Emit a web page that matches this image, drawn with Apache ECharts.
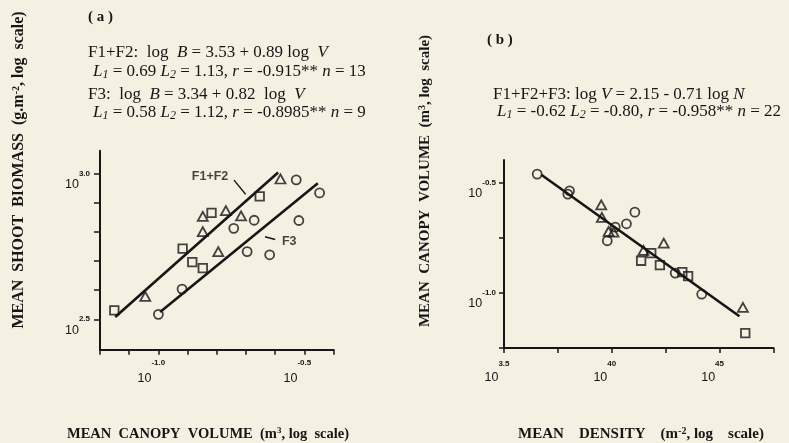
<!DOCTYPE html>
<html><head><meta charset="utf-8">
<script src="https://cdn.jsdelivr.net/npm/echarts@6/dist/echarts.min.js"></script>
<style>html,body{margin:0;padding:0;background:#f4f0e2;}#c{width:789px;height:443px;}</style>
</head><body><div id="c"></div>
<script>
// ---------- Panel (a): log10 mean canopy volume (x) vs log10 mean shoot biomass (y)
const aSquaresF12   = [[-1.151,2.531],[-0.917,2.743],[-0.884,2.697],[-0.848,2.676],[-0.818,2.866],[-0.653,2.923]];
const aTrianglesF12 = [[-1.045,2.579],[-0.848,2.854],[-0.848,2.802],[-0.769,2.874],[-0.717,2.856],[-0.795,2.733],[-0.582,2.983]];
const aCirclesF3    = [[-1.000,2.517],[-0.919,2.604],[-0.742,2.813],[-0.672,2.841],[-0.696,2.733],[-0.619,2.722],[-0.528,2.980],[-0.519,2.840],[-0.448,2.935]];
const aLineF12 = [[-1.148,2.508],[-0.590,3.005]];
const aLineF3  = [[-0.994,2.525],[-0.454,2.968]];
const aAnnoText = [[-0.823,2.990,'F1+F2'],[-0.552,2.769,'F3']];
const aLeaderF12 = [[-0.741,2.979],[-0.701,2.930]];
const aLeaderF3  = [[-0.635,2.784],[-0.600,2.775]];
const aXTicks = [-1.2,-1.1,-1.0,-0.9,-0.8,-0.7,-0.6,-0.5,-0.4];
const aXLabelVals = [-1.0,-0.5];
const aXLabelSup  = ['-1.0','-0.5'];
const aYTicks = [2.5,2.6,2.7,2.8,2.9,3.0];
const aYLabelVals = [2.5,3.0];
const aYLabelSup  = ['2.5','3.0'];

// ---------- Panel (b): log10 mean density (x) vs log10 mean canopy volume (y)
const bCircles   = [[3.654,-0.459],[3.804,-0.535],[3.796,-0.550],[4.107,-0.632],[4.068,-0.685],[4.016,-0.700],[3.979,-0.762],[4.294,-0.909],[4.417,-1.005]];
const bTriangles = [[3.951,-0.599],[3.954,-0.656],[3.985,-0.720],[4.008,-0.723],[4.147,-0.806],[4.241,-0.773],[4.608,-1.065]];
const bSquares   = [[4.136,-0.853],[4.183,-0.818],[4.223,-0.873],[4.327,-0.905],[4.354,-0.923],[4.619,-1.182]];
const bLine = [[3.673,-0.462],[4.592,-1.105]];
const bXTicks = [3.5,3.75,4.0,4.25,4.5,4.75];
const bXLabelVals = [3.5,4.0,4.5];
const bXLabelSup  = ['3.5','40','45'];
const bYTicks = [-1.25,-1.0,-0.75,-0.5];
const bYLabelVals = [-1.0,-0.5];
const bYLabelSup  = ['-1.0','-0.5'];
const labelBase = '10';

const INK = '#161616';
const SANS = 'Liberation Sans, Arial, sans-serif';
const SERIF = 'Liberation Serif, Times New Roman, serif';

function fmt(vals, sups){
  return function(v){
    const i = vals.findIndex(x => Math.abs(x - v) < 1e-6);
    return i < 0 ? '' : '{b|' + labelBase + '}{s|' + sups[i] + '}';
  };
}
function richFor(D){
  return {
    b:{fontSize:12.5, fontFamily:SANS, color:INK, padding:[D,0,0,0], verticalAlign:'bottom'},
    s:{fontSize:8, fontFamily:SANS, fontWeight:'bold', color:INK, verticalAlign:'top'}
  };
}
function axisCommon(){
  return {
    type:'value', scale:true,
    splitLine:{show:false},
    axisLine:{show:true, onZero:false, lineStyle:{color:INK, width:2}},
  };
}
const xA = Object.assign(axisCommon(), {
  gridIndex:0, min:-1.2, max:-0.4,
  axisTick:{show:true, customValues:aXTicks, length:5, lineStyle:{color:INK, width:1.5}},
  axisLabel:{show:true, customValues:aXLabelVals, formatter:fmt(aXLabelVals,aXLabelSup), margin:9, padding:[0,14,0,0], rich:richFor(13)}
});
const yA = Object.assign(axisCommon(), {
  gridIndex:0, min:2.395, max:3.08,
  axisTick:{show:true, customValues:aYTicks, length:6, lineStyle:{color:INK, width:1.5}},
  axisLabel:{show:true, customValues:aYLabelVals, formatter:fmt(aYLabelVals,aYLabelSup), margin:10, padding:[13,0,0,0], rich:richFor(9)}
});
const xB = Object.assign(axisCommon(), {
  gridIndex:1, min:3.5, max:4.75,
  axisTick:{show:true, customValues:bXTicks, length:5, lineStyle:{color:INK, width:1.5}},
  axisLabel:{show:true, customValues:bXLabelVals, formatter:fmt(bXLabelVals,bXLabelSup), margin:11.7, padding:[0,14,0,0], rich:richFor(11)}
});
const yB = Object.assign(axisCommon(), {
  gridIndex:1, min:-1.25, max:-0.395,
  axisTick:{show:true, customValues:bYTicks, length:5, lineStyle:{color:INK, width:1.5}},
  axisLabel:{show:true, customValues:bYLabelVals, formatter:fmt(bYLabelVals,bYLabelSup), margin:8, padding:[12,0,0,0], rich:richFor(8)}
});

const hollow = {color:'rgba(0,0,0,0)', borderColor:INK, borderWidth:1.8};
function scat(xi, data, symbol, size){
  return {type:'scatter', xAxisIndex:xi, yAxisIndex:xi, data:data, symbol:symbol, symbolSize:size,
    itemStyle:hollow, z:3, silent:true};
}
function line(xi, data, w){
  return {type:'line', xAxisIndex:xi, yAxisIndex:xi, data:data, symbol:'none',
    lineStyle:{color:INK, width:w}, z:2, silent:true};
}

const EQ = 17;
const eqRich = {
  i:{fontStyle:'italic', fontSize:EQ, fontFamily:SERIF, fill:INK},
  sub:{fontStyle:'italic', fontSize:12, fontFamily:SERIF, fill:INK, verticalAlign:'bottom', padding:[6,0,0,0]}
};
const supRich = (fs) => ({ sup:{fontSize:fs, fontFamily:SERIF, fontWeight:'bold', fill:INK, verticalAlign:'top'} });
function txt(x, y, text, opts){
  return Object.assign({type:'text', x:x, y:y, silent:true,
    style:Object.assign({text:text, fill:INK, fontFamily:SERIF, fontSize:EQ, align:'left', verticalAlign:'middle', rich:eqRich}, opts||{})});
}
function title(x, y, text, fs, rot){
  return {type:'text', x:x, y:y, rotation:rot||0, silent:true,
    style:{text:text, fill:INK, fontFamily:SERIF, fontWeight:'bold', fontSize:fs, align:'center', verticalAlign:'middle', rich:supRich(Math.round(fs*0.65))}};
}

const option = {
  backgroundColor:'#f4f0e2',
  animation:false,
  grid:[
    {left:100, top:150.8, width:233.6, height:199, containLabel:false},
    {left:504, top:160, width:269.5, height:188.1, containLabel:false}
  ],
  xAxis:[xA, xB],
  yAxis:[yA, yB],
  series:[
    line(0, aLineF12, 2.6),
    line(0, aLineF3, 2.6),
    line(0, aLeaderF12, 1.5),
    line(0, aLeaderF3, 1.5),
    scat(0, aSquaresF12, 'rect', 8.5),
    scat(0, aTrianglesF12, 'triangle', [10,9]),
    scat(0, aCirclesF3, 'circle', 9),
    {type:'scatter', xAxisIndex:0, yAxisIndex:0, data:aAnnoText, symbolSize:0, silent:true,
     label:{show:true, position:'inside', formatter:p=>p.data[2], color:INK, fontFamily:SANS, fontWeight:'bold', fontSize:12.5}},
    line(1, bLine, 2.6),
    scat(1, bCircles, 'circle', 9),
    scat(1, bTriangles, 'triangle', [10,9]),
    scat(1, bSquares, 'rect', 8.5)
  ],
  graphic:[
    txt(88, 17, '( a )', {fontWeight:'bold', fontSize:15}),
    txt(88, 53, 'F1+F2:  log  {i|B} = 3.53 + 0.89 log  {i|V}'),
    txt(93, 72, '{i|L}{sub|1} = 0.69 {i|L}{sub|2} = 1.13, {i|r} = -0.915** {i|n} = 13'),
    txt(88, 95, 'F3:  log  {i|B} = 3.34 + 0.82  log  {i|V}'),
    txt(93, 113, '{i|L}{sub|1} = 0.58 {i|L}{sub|2} = 1.12, {i|r} = -0.8985** {i|n} = 9'),
    txt(487, 40, '( b )', {fontWeight:'bold', fontSize:15}),
    txt(493, 95, 'F1+F2+F3: log {i|V} = 2.15 - 0.71 log {i|N}'),
    txt(497, 112, '{i|L}{sub|1} = -0.62 {i|L}{sub|2} = -0.80, {i|r} = -0.958** {i|n} = 22'),
    title(19, 170, 'MEAN  SHOOT  BIOMASS  (g.m{sup|-2}, log  scale)', 16, Math.PI/2),
    title(425, 181, 'MEAN  CANOPY  VOLUME  (m{sup|3}, log  scale)', 15, Math.PI/2),
    title(208, 434, 'MEAN  CANOPY  VOLUME  (m{sup|3}, log  scale)', 14.5),
    title(641, 434, 'MEAN    DENSITY    (m{sup|-2}, log    scale)', 15)
  ]
};
const chart = echarts.init(document.getElementById('c'), null, {renderer:'canvas'});
chart.setOption(option);
</script></body></html>
